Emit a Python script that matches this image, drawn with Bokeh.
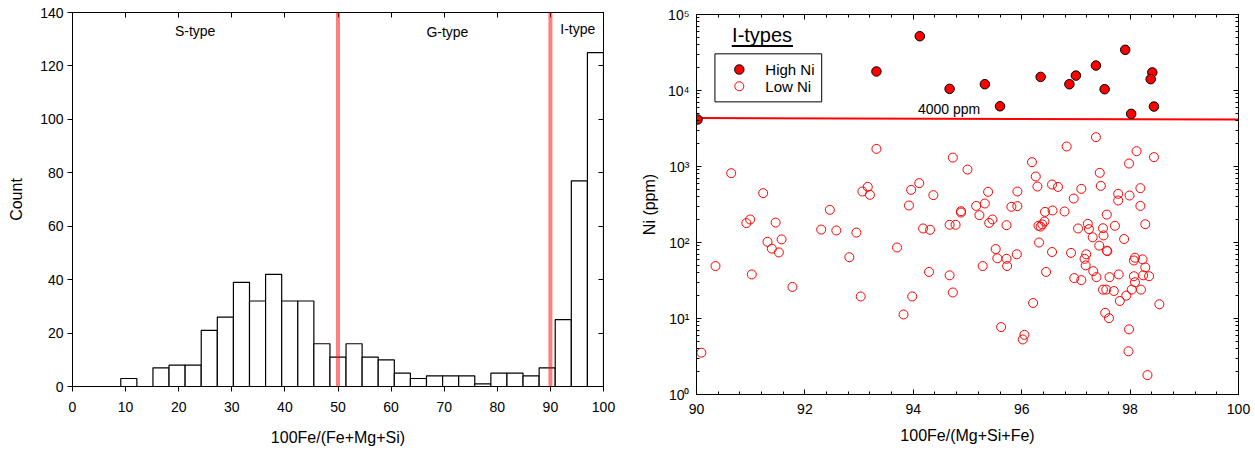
import numpy as np
from bokeh.plotting import figure
from bokeh.models import (Range1d, LinearAxis, LogAxis, FixedTicker, SingleIntervalTicker, Span,
                          CustomJSTickFormatter)
from bokeh.core.properties import value
from bokeh.embed import file_html
from bokeh.resources import INLINE

FONT = "Liberation Sans"

# ---------------- Left panel data (histogram) ----------------
hist_counts = [0, 0, 0, 3, 0, 7, 8, 8, 21, 26, 39, 32, 42, 32, 32, 16, 11, 16, 11, 10,
               5, 3, 4, 4, 4, 1, 5, 5, 4, 7, 25, 77, 125]
hist_range = [0, 100]
boundaries = [50, 90]
type_labels = ["S-type", "G-type", "I-type"]
type_label_x = [23.1, 70.6, 95.15]
type_label_y = [133, 132.6, 134]
hist_xticks = [0, 10, 20, 30, 40, 50, 60, 70, 80, 90, 100]
hist_yticks = [0, 20, 40, 60, 80, 100, 120, 140]

# ---------------- Right panel data (scatter) ----------------
hi_x = [90.02, 93.32, 94.12, 94.67, 95.32, 95.60, 96.35, 96.88, 97.00, 97.37, 97.53, 97.91,
        98.02, 98.41, 98.38, 98.44]
hi_y = [4150, 17800, 51800, 10500, 12100, 6200, 15100, 12100, 15700, 21300, 10400, 34300,
        4930, 17300, 14100, 6150]

lo_x = [93.32, 94.73, 90.64, 90.35, 91.23, 90.92, 90.99, 91.02, 91.31, 91.46, 91.39, 91.52,
        91.57, 91.77, 92.30, 92.46, 92.58, 92.82, 92.95, 93.06, 93.16, 93.20, 93.03, 93.70,
        93.92, 93.96, 94.11, 93.98, 94.18, 94.31, 94.37, 94.29, 94.67, 94.73, 94.67, 94.78,
        94.88, 94.88, 95.00, 95.16, 95.22, 95.32, 95.38, 95.40, 95.46, 95.28, 95.52, 95.55,
        90.09, 93.82, 95.62,
        96.83, 97.37, 98.12, 98.44, 97.98, 96.19, 97.44, 96.26, 96.29, 96.56, 96.67, 97.46,
        97.10, 97.78, 97.78, 97.99, 98.19, 95.92, 96.96, 95.81, 95.92, 98.19, 96.43, 96.57,
        96.79, 97.57, 98.28, 95.72, 96.31, 96.38, 96.42, 96.35, 97.04, 97.22, 97.24, 97.50,
        97.72, 97.51, 97.31, 97.89, 96.32, 97.43, 97.57, 97.58, 96.56, 95.91, 96.91, 95.72,
        95.73, 97.19, 97.16, 97.18, 98.09, 98.07, 98.23, 98.28, 96.45, 97.32, 97.38, 97.62,
        97.79, 98.07, 98.24, 98.35, 96.97, 97.10, 98.09, 97.50, 97.56, 97.70, 98.03, 98.20,
        97.93, 97.81, 98.54, 96.21, 97.54, 97.61, 97.98, 96.05, 96.02, 97.97, 98.32]
lo_y = [1706, 1310, 817, 49, 446, 180, 201, 38, 102, 183, 83, 74,
        110, 26, 148, 269, 144, 64, 135, 469, 540, 424, 19.5, 86,
        307, 493, 604, 19.5, 153, 147, 420, 41, 37, 22, 171, 171,
        258, 248, 912, 303, 229, 326, 464, 181, 201, 49, 82, 62,
        3.55, 11.3, 7.7,
        1833, 2430, 1592, 1327, 1094, 1140, 826, 738, 545, 579, 539, 556,
        508, 437, 357, 415, 519, 469, 379, 295, 301, 303, 253, 264,
        256, 233, 174, 169, 166, 173, 189, 162, 153, 176, 150, 154,
        166, 124, 117, 111, 100, 91, 78, 77, 75, 70, 73, 61,
        49, 70, 61, 50, 63, 58, 60, 47, 41, 42, 35, 35,
        38, 36, 37, 36, 34, 32, 30, 24, 24, 23, 24, 24,
        20, 17, 15.4, 16, 11.9, 10.1, 7.2, 6.1, 5.3, 3.7, 1.8]

threshold_x = [90.0, 100.0]
threshold_y = [4350, 4150]
threshold_label = ["4000 ppm"]
legend_labels = ["High Ni", "Low Ni"]
sc_yticks_major = [1, 10, 100, 1000, 10000, 100000]

blank_fmt = CustomJSTickFormatter(code="return '';")


def style_axis(ax, labels=True, inward=False, minor=False):
    ax.axis_line_color = "black"
    ax.axis_line_width = 1
    ax.major_tick_line_color = "black"
    ax.minor_tick_line_color = "black" if minor else None
    if inward:
        ax.major_tick_in = 5
        ax.major_tick_out = 0
        ax.minor_tick_in = 3
        ax.minor_tick_out = 0
    else:
        ax.major_tick_in = 0
        ax.major_tick_out = 5
    ax.major_label_text_font = FONT
    ax.major_label_text_color = "black"
    ax.major_label_text_font_size = "14px"
    ax.axis_label_text_font = FONT
    ax.axis_label_text_font_style = "normal"
    ax.axis_label_text_color = "black"
    ax.axis_label_text_font_size = "16px"
    if not labels:
        ax.formatter = blank_fmt
        ax.major_label_standoff = 0


# ================= Left figure =================
p1 = figure(width=630, height=450, x_range=Range1d(*hist_range), y_range=Range1d(0, 140),
            output_backend="svg", toolbar_location=None,
            min_border_left=72, min_border_right=27, min_border_top=12, min_border_bottom=64)
p1.grid.visible = False
p1.outline_line_color = "black"
p1.outline_line_width = 1
p1.background_fill_color = "white"
p1.border_fill_color = "white"

edges = np.linspace(hist_range[0], hist_range[1], len(hist_counts) + 1)
cnt = np.array(hist_counts)
mask = cnt > 0
p1.quad(left=edges[:-1][mask], right=edges[1:][mask], bottom=0, top=cnt[mask],
        fill_color="white", line_color="black", line_width=1.2)

for b in boundaries:
    p1.add_layout(Span(location=b, dimension="height", line_color="red", line_alpha=0.5,
                       line_width=4))

p1.text(x=type_label_x, y=type_label_y, text=type_labels, text_font=value(FONT),
        text_font_size="14px", text_align="center", text_baseline="middle", text_color="black")

p1.xaxis[0].ticker = FixedTicker(ticks=hist_xticks)
p1.yaxis[0].ticker = FixedTicker(ticks=hist_yticks)
p1.xaxis[0].axis_label = "100Fe/(Fe+Mg+Si)"
p1.yaxis[0].axis_label = "Count"
style_axis(p1.xaxis[0])
style_axis(p1.yaxis[0])
p1.xaxis[0].major_label_standoff = 10
p1.xaxis[0].axis_label_standoff = 14
p1.yaxis[0].major_label_standoff = 4
p1.yaxis[0].axis_label_standoff = 12

top1 = LinearAxis(ticker=FixedTicker(ticks=hist_xticks))
style_axis(top1, labels=False, inward=True)
p1.add_layout(top1, "above")
right1 = LinearAxis(ticker=FixedTicker(ticks=hist_yticks))
style_axis(right1, labels=False, inward=True)
p1.add_layout(right1, "right")

# ================= Right figure =================
p2 = figure(width=625, height=450, x_range=Range1d(90, 100), y_range=Range1d(1, 1e5),
            y_axis_type="log", output_backend="svg", toolbar_location=None,
            min_border_left=66, min_border_right=17, min_border_top=14, min_border_bottom=56)
p2.grid.visible = False
p2.outline_line_color = "black"
p2.outline_line_width = 1
p2.background_fill_color = "white"
p2.border_fill_color = "white"

p2.line(threshold_x, threshold_y, line_color="red", line_width=2)
lo_r = p2.scatter(lo_x, lo_y, marker="circle", size=9, fill_color=None, line_color="red",
                  line_width=1)
hi_r = p2.scatter(hi_x, hi_y, marker="circle", size=9.5, fill_color="red", line_color="black",
                  line_width=1)

# annotation texts (positions chosen for layout)
p2.text(x=[94.66], y=[5660], text=threshold_label, text_font=value(FONT),
        text_font_size="14px", text_align="center", text_baseline="middle", text_color="black")
p2.text(x=[91.21], y=[10 ** 4.727], text=["I-types"], text_font=value(FONT),
        text_font_size="20px", text_align="center", text_baseline="middle", text_color="black")
p2.segment(x0=[90.65], x1=[91.78], y0=[10 ** 4.585], y1=[10 ** 4.585], line_color="black",
           line_width=2)

# legend box drawn by hand (layout positions)
p2.quad(left=[90.34], right=[92.31], bottom=[10 ** 3.8504], top=[10 ** 4.4825],
        fill_color="white", line_color="black", line_width=1)
p2.scatter(x=[90.79], y=[10 ** 4.276], marker="circle", size=9.5, fill_color="red",
           line_color="black", line_width=1)
p2.scatter(x=[90.79], y=[10 ** 4.056], marker="circle", size=9, fill_color=None,
           line_color="red", line_width=1)
p2.text(x=[91.27, 91.27], y=[10 ** 4.276, 10 ** 4.056], text=legend_labels,
        text_font=value(FONT), text_font_size="15px", text_align="left",
        text_baseline="middle", text_color="black")

minor_y = [k * 10 ** n for n in range(0, 5) for k in range(2, 10)]
sup_fmt = CustomJSTickFormatter(code="""
const sup = {'0':'\u2070','1':'\u00b9','2':'\u00b2','3':'\u00b3','4':'\u2074','5':'\u2075',
             '6':'\u2076','7':'\u2077','8':'\u2078','9':'\u2079','-':'\u207b'};
const e = Math.round(Math.log10(tick));
return '10' + String(e).split('').map(c => sup[c]).join('');
""")

p2.xaxis[0].ticker = SingleIntervalTicker(interval=2, num_minor_ticks=5)
p2.yaxis[0].ticker = FixedTicker(ticks=sc_yticks_major, minor_ticks=minor_y)
p2.yaxis[0].formatter = sup_fmt
p2.xaxis[0].axis_label = "100Fe/(Mg+Si+Fe)"
p2.yaxis[0].axis_label = "Ni (ppm)"
style_axis(p2.xaxis[0], inward=True, minor=True)
style_axis(p2.yaxis[0], inward=True, minor=True)
p2.xaxis[0].major_label_standoff = 9
p2.xaxis[0].axis_label_standoff = 10
p2.yaxis[0].major_label_standoff = 7
p2.yaxis[0].axis_label_standoff = 7

top2 = LinearAxis(ticker=SingleIntervalTicker(interval=2, num_minor_ticks=5))
style_axis(top2, labels=False, inward=True, minor=True)
p2.add_layout(top2, "above")
right2 = LogAxis(ticker=FixedTicker(ticks=sc_yticks_major, minor_ticks=minor_y))
style_axis(right2, labels=False, inward=True, minor=True)
p2.add_layout(right2, "right")

page_template = """
{% block contents %}
{% from macros import embed %}
{% for doc in docs %}
{% for root in doc.roots %}
<div style="position:absolute;top:0px;left:{{ offsets[loop.index0] }}px;">
{{ embed(root) }}
</div>
{% endfor %}
{% endfor %}
{% endblock %}
"""

html = file_html([p1, p2], INLINE, template=page_template,
                 template_variables={"offsets": [0, 630]})
with open("out.html", "w", encoding="utf-8") as f:
    f.write(html)
